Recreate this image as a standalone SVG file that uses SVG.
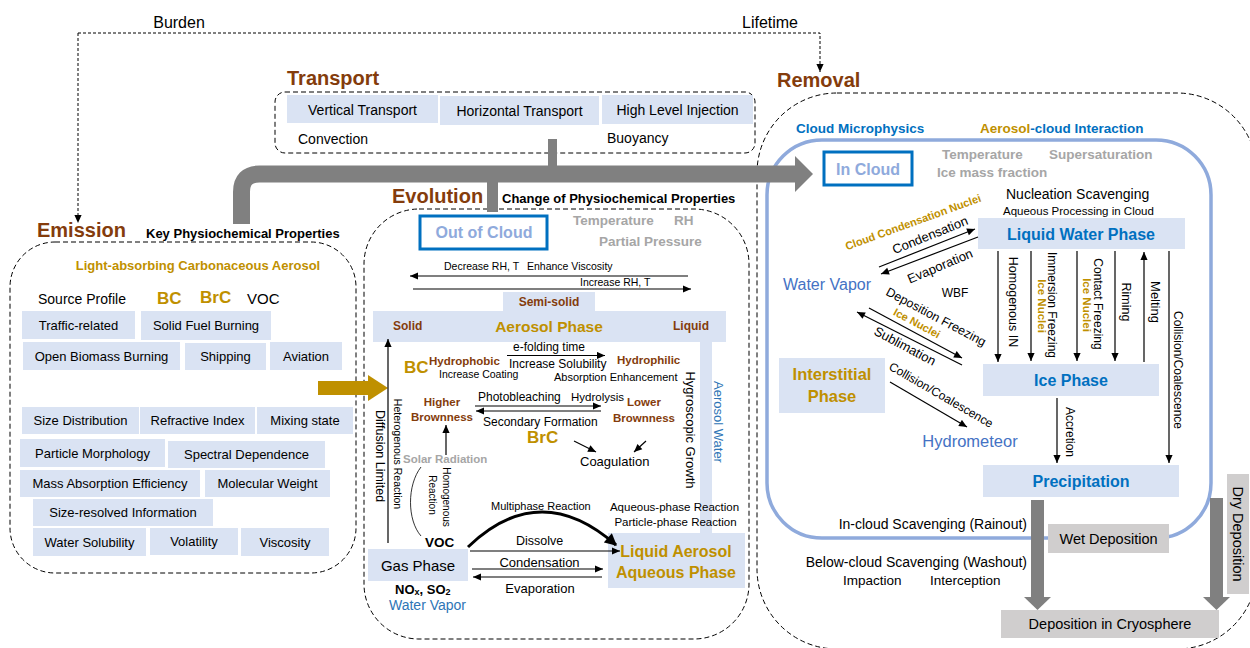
<svg xmlns="http://www.w3.org/2000/svg" width="1250" height="648" viewBox="0 0 1250 648">
<style>
text{font-family:"Liberation Sans",Arial,sans-serif;dominant-baseline:central;fill:#000}
.m{text-anchor:middle}
.e{text-anchor:end}
.b{font-weight:bold}
.br{fill:#843C0C}
.gd{fill:#BF9000}
.bl{fill:#0070C0}
.lb{fill:#4472C4}
.aw{fill:#2E75B6}
.gr{fill:#A6A6A6}
.cl{fill:#8FAADC}
.h{font-size:20px;font-weight:bold;fill:#843C0C}
.box{fill:#DAE3F3}
.gbox{fill:#D0CECE}
.dash{fill:none;stroke:#000;stroke-width:1;stroke-dasharray:5 3}
.dot{fill:none;stroke:#000;stroke-width:1;stroke-dasharray:3 2}
.ln{fill:none;stroke:#000;stroke-width:1.2}
.arr{marker-end:url(#ah)}
.cbox{fill:#fff;stroke:#0070C0;stroke-width:3}
.gy{fill:#808080}
</style>
<defs>
<marker id="ah" viewBox="0 0 10 10" refX="10" refY="5" markerWidth="9" markerHeight="8" markerUnits="userSpaceOnUse" orient="auto"><path d="M0,0.5 L10,5 L0,9.5 z" fill="#000"/></marker>
<marker id="ahb" viewBox="0 0 10 10" refX="9" refY="5" markerWidth="13" markerHeight="12" markerUnits="userSpaceOnUse" orient="auto"><path d="M0,0 L10,5 L0,10 z" fill="#000"/></marker>
</defs>

<g id="emission">
<text x="37" y="230" class="h">Emission</text>
<text x="146" y="233" class="b" font-size="13">Key Physiochemical Properties</text>
<rect x="10" y="242" width="346" height="331" rx="45" class="dash"/>
<text x="198" y="265" class="m b gd" font-size="13">Light-absorbing Carbonaceous Aerosol</text>
<text x="38" y="299" font-size="14">Source Profile</text>
<text x="157" y="298" class="b gd" font-size="17">BC</text>
<text x="200" y="297" class="b gd" font-size="17">BrC</text>
<text x="247" y="298" font-size="15">VOC</text>
<g font-size="13">
<rect x="22" y="311" width="113" height="28" class="box"/><text x="78.5" y="325" class="m">Traffic-related</text>
<rect x="141" y="311" width="130" height="29" class="box"/><text x="206" y="325.5" class="m">Solid Fuel Burning</text>
<rect x="23" y="342" width="157" height="28" class="box"/><text x="101.5" y="356" class="m">Open Biomass Burning</text>
<rect x="185" y="343" width="81" height="27" class="box"/><text x="225.5" y="356.5" class="m">Shipping</text>
<rect x="270" y="342" width="72" height="28" class="box"/><text x="306" y="356" class="m">Aviation</text>
<rect x="22" y="407" width="117" height="27" class="box"/><text x="80.5" y="420.5" class="m">Size Distribution</text>
<rect x="140" y="407" width="115" height="27" class="box"/><text x="197.5" y="420.5" class="m">Refractive Index</text>
<rect x="257" y="407" width="96" height="27" class="box"/><text x="305" y="420.5" class="m">Mixing state</text>
<rect x="20" y="439" width="145" height="28" class="box"/><text x="92.5" y="453" class="m">Particle Morphology</text>
<rect x="168" y="441" width="157" height="27" class="box"/><text x="246.5" y="454.5" class="m">Spectral Dependence</text>
<rect x="20" y="470" width="180" height="27" class="box"/><text x="110" y="483.5" class="m">Mass Absorption Efficiency</text>
<rect x="205" y="470" width="125" height="27" class="box"/><text x="267.5" y="483.5" class="m">Molecular Weight</text>
<rect x="33" y="499" width="180" height="27" class="box"/><text x="123" y="512.5" class="m">Size-resolved Information</text>
<rect x="33" y="528" width="113" height="28" class="box"/><text x="89.5" y="542" class="m">Water Solubility</text>
<rect x="150" y="528" width="88" height="27" class="box"/><text x="194" y="541.5" class="m">Volatility</text>
<rect x="241" y="528" width="88" height="28" class="box"/><text x="285" y="542" class="m">Viscosity</text>
</g>
</g>

<g id="transport">
<text x="287" y="78" class="h">Transport</text>
<rect x="275" y="92" width="480" height="61" rx="10" class="dash"/>
<g font-size="14">
<rect x="287" y="95" width="151" height="28" class="box"/><text x="362.5" y="110" class="m">Vertical Transport</text>
<rect x="440" y="96" width="159" height="29" class="box"/><text x="519.5" y="111" class="m">Horizontal Transport</text>
<rect x="602" y="95" width="151" height="29" class="box"/><text x="677.5" y="110" class="m">High Level Injection</text>
<text x="298" y="139">Convection</text>
<text x="607" y="138">Buoyancy</text>
</g>
</g>

<g id="evolution">
<text x="392" y="196" class="h">Evolution</text>
<text x="502" y="198" class="b" font-size="13">Change of Physiochemical Properties</text>
<rect x="364" y="209" width="385" height="430" rx="55" class="dash"/>
<rect x="420" y="216" width="127" height="33" class="cbox"/>
<text x="484" y="232.5" class="m b cl" font-size="16">Out of Cloud</text>
<text x="573" y="220" class="b gr" font-size="13.5">Temperature</text>
<text x="674" y="220" class="b gr" font-size="13.5">RH</text>
<text x="599" y="241" class="b gr" font-size="13.5">Partial Pressure</text>
<text x="444" y="266" font-size="10.5">Decrease RH, T</text>
<text x="527" y="266" font-size="10.5">Enhance Viscosity</text>
<text x="580" y="282" font-size="10.5">Increase RH, T</text>
<rect x="503" y="292" width="92" height="20" class="box"/>
<rect x="373" y="311" width="353" height="31" class="box"/>
<rect x="700" y="341" width="12" height="193" class="box"/>
<text x="549" y="302" class="m b br" font-size="12">Semi-solid</text>
<text x="393" y="326" class="b br" font-size="12">Solid</text>
<text x="549" y="326" class="m b gd" font-size="15.5">Aerosol Phase</text>
<text x="673" y="326" class="b br" font-size="12">Liquid</text>
<text transform="translate(718,422) rotate(90)" class="m aw" font-size="13">Aerosol Water</text>
<text transform="translate(690,430) rotate(90)" class="m" font-size="13">Hygroscopic Growth</text>
<text x="404" y="367" class="b gd" font-size="17">BC</text>
<text x="429" y="361" class="b br" font-size="11.5">Hydrophobic</text>
<text x="439" y="374" font-size="10.5">Increase Coating</text>
<text x="513" y="347" font-size="12">e-folding time</text>
<text x="509" y="364" font-size="12">Increase Solubility</text>
<text x="617" y="360" class="b br" font-size="11.5">Hydrophilic</text>
<text x="554" y="377" font-size="11">Absorption Enhancement</text>
<text x="442" y="402" class="m b br" font-size="11.5">Higher</text>
<text x="442" y="417" class="m b br" font-size="11.5">Brownness</text>
<text x="478" y="397" font-size="12">Photobleaching</text>
<text x="571" y="397" font-size="11.5">Hydrolysis</text>
<text x="483" y="422" font-size="12">Secondary Formation</text>
<text x="644" y="402" class="m b br" font-size="11.5">Lower</text>
<text x="644" y="418" class="m b br" font-size="11.5">Brownness</text>
<text x="527" y="437" class="b gd" font-size="17">BrC</text>
<text x="580" y="461" font-size="13">Coagulation</text>
<text x="403" y="459" class="b gr" font-size="11.5">Solar Radiation</text>
<text transform="translate(380,456) rotate(90)" class="m" font-size="12.5">Diffusion Limited</text>
<text transform="translate(398,454) rotate(90)" class="m" font-size="10.5">Heterogenous Reaction</text>
<text transform="translate(446,497) rotate(90)" class="m" font-size="10">Homogenous</text>
<text transform="translate(432,495) rotate(90)" class="m" font-size="10">Reaction</text>
<text x="425" y="542" class="b" font-size="13.5">VOC</text>
<rect x="368" y="549" width="100" height="32" class="box"/>
<text x="418" y="565" class="m" font-size="15">Gas Phase</text>
<text x="395" y="589" class="b" font-size="13">NO<tspan font-size="9" dy="3">x</tspan><tspan dy="-3">, SO</tspan><tspan font-size="9" dy="3">2</tspan></text>
<text x="427.5" y="605" class="m aw" font-size="14">Water Vapor</text>
<text x="491" y="506" font-size="11">Multiphase Reaction</text>
<text x="674.5" y="507" class="m" font-size="11.5">Aqueous-phase Reaction</text>
<text x="675.5" y="522" class="m" font-size="11.5">Particle-phase Reaction</text>
<text x="539.5" y="541" class="m" font-size="12.5">Dissolve</text>
<text x="539.5" y="562" class="m" font-size="13">Condensation</text>
<text x="540" y="588" class="m" font-size="13">Evaporation</text>
<rect x="608" y="533" width="137" height="55" class="box"/>
<text x="676" y="551" class="m b gd" font-size="16">Liquid Aerosol</text>
<text x="676" y="572" class="m b gd" font-size="16">Aqueous Phase</text>
</g>

<g id="removal">
<text x="777" y="80" class="h">Removal</text>
<rect x="757" y="93" width="500" height="556" rx="80" class="dash"/>
<text x="796" y="128" class="b bl" font-size="13.5">Cloud Microphysics</text>
<text x="980" y="128" class="b" font-size="13.5"><tspan class="gd">Aerosol</tspan><tspan class="bl">-cloud Interaction</tspan></text>
<rect x="767" y="140" width="444" height="398" rx="55" fill="none" stroke="#8FAADC" stroke-width="3.5"/>
<rect x="824" y="152" width="88" height="33" class="cbox"/>
<text x="868" y="169" class="m b cl" font-size="16">In Cloud</text>
<text x="942" y="154" class="b gr" font-size="13.5">Temperature</text>
<text x="1049" y="154" class="b gr" font-size="13.5">Supersaturation</text>
<text x="937" y="172" class="b gr" font-size="13.5">Ice mass fraction</text>
<text x="1006" y="194" font-size="14">Nucleation Scavenging</text>
<text x="1003" y="211" font-size="11.5">Aqueous Processing in Cloud</text>
<rect x="978" y="218" width="207" height="31" class="box"/>
<text x="1081" y="234" class="m b bl" font-size="16">Liquid Water Phase</text>
<text transform="translate(913,222) rotate(-20)" class="m b gd" font-size="11">Cloud Condensation Nuclei</text>
<text transform="translate(930,235) rotate(-22)" class="m" font-size="13">Condensation</text>
<text transform="translate(940,266) rotate(-23)" class="m" font-size="13">Evaporation</text>
<text x="827" y="284" class="m lb" font-size="16">Water Vapor</text>
<text x="955" y="293" class="m" font-size="12">WBF</text>
<text transform="translate(936,317) rotate(28)" class="m" font-size="12.5">Deposition Freezing</text>
<text transform="translate(917,323) rotate(28)" class="m b gd" font-size="11">Ice Nuclei</text>
<text transform="translate(905,346) rotate(28)" class="m" font-size="13">Sublimation</text>
<rect x="779" y="358" width="106" height="55" class="box"/>
<text x="832" y="374" class="m b gd" font-size="16.5">Interstitial</text>
<text x="832" y="396" class="m b gd" font-size="16.5">Phase</text>
<text transform="translate(941,395) rotate(30)" class="m" font-size="12">Collision/Coalescence</text>
<text x="970" y="441" class="m lb" font-size="16.5">Hydrometeor</text>
<rect x="983" y="364" width="176" height="32" class="box"/>
<text x="1071" y="380" class="m b bl" font-size="16">Ice Phase</text>
<text transform="translate(1013,302) rotate(90)" class="m" font-size="12.5">Homogenous IN</text>
<text transform="translate(1052,305) rotate(90)" class="m" font-size="12">Immersion Freezing</text>
<text transform="translate(1042,306) rotate(90)" class="m b gd" font-size="11.5">Ice Nuclei</text>
<text transform="translate(1098,304) rotate(90)" class="m" font-size="12">Contact Freezing</text>
<text transform="translate(1087,305) rotate(90)" class="m b gd" font-size="11.5">Ice Nuclei</text>
<text transform="translate(1126,302) rotate(90)" class="m" font-size="12.5">Riming</text>
<text transform="translate(1155,302) rotate(90)" class="m" font-size="13">Melting</text>
<text transform="translate(1178,370) rotate(90)" class="m" font-size="12">Collision/Coalescence</text>
<text transform="translate(1070,432) rotate(90)" class="m" font-size="12">Accretion</text>
<rect x="983" y="465" width="196" height="32" class="box"/>
<text x="1081" y="481" class="m b bl" font-size="16">Precipitation</text>
<text x="1027" y="524" class="e" font-size="14">In-cloud Scavenging (Rainout)</text>
<text x="1027" y="562" class="e" font-size="14">Below-cloud Scavenging (Washout)</text>
<text x="843" y="580" font-size="13.5">Impaction</text>
<text x="930" y="580" font-size="13.5">Interception</text>
<rect x="1048" y="524" width="121" height="29" class="gbox"/>
<text x="1108.5" y="538.5" class="m" font-size="14.5">Wet Deposition</text>
<rect x="1227" y="474" width="22" height="120" class="gbox"/>
<text transform="translate(1238,534) rotate(90)" class="m" font-size="14.5">Dry Deposition</text>
<rect x="1001" y="610" width="218" height="28" class="gbox"/>
<text x="1110" y="624" class="m" font-size="14.5">Deposition in Cryosphere</text>
</g>

<g id="connectors">
<text x="179" y="22" class="m" font-size="16">Burden</text>
<text x="770" y="22" class="m" font-size="16">Lifetime</text>
<path d="M78 33 V223" class="dot arr"/>
<path d="M78 33 H820 V72" class="dot arr"/>
<path d="M241.5 224 V192 Q241.5 174 259.5 174 H796" fill="none" stroke="#808080" stroke-width="17"/>
<polygon points="795,156 813,174 795,192" class="gy"/>
<rect x="548" y="139" width="9" height="27" class="gy"/>
<rect x="487" y="181" width="11" height="31" class="gy"/>
<rect x="318" y="381" width="52" height="14" fill="#BF9000"/>
<polygon points="368,375 388,388 368,401" fill="#BF9000"/>
<path d="M688 276 H410" class="ln arr"/>
<path d="M413 289 H691" class="ln arr"/>
<path d="M507 355.5 H605" class="ln arr"/>
<path d="M475 406 H601" class="ln arr"/>
<path d="M601 411 H476" class="ln arr"/>
<path d="M574 441 L596 452" class="ln arr"/>
<path d="M646 441 L634 452" class="ln arr"/>
<path d="M446 455 V425" class="ln arr"/>
<path d="M388 543 V339" class="ln arr"/>
<path d="M421 467 C407 485 407 520 421 536" fill="none" stroke="#000" stroke-width="0.8"/>
<path d="M468 547 Q540 478 616 545" fill="none" stroke="#000" stroke-width="3" marker-end="url(#ahb)"/>
<path d="M470 551 H620" class="ln arr"/>
<path d="M472 569 H603" class="ln arr"/>
<path d="M602 577 H473" class="ln arr"/>
<path d="M879 267 L975 229" class="ln arr"/>
<path d="M978 237 L881 274" class="ln arr"/>
<path d="M869 308 L962 358" class="ln arr"/>
<path d="M962 365 L857 312" class="ln arr"/>
<path d="M890 382 L967 427" class="ln arr"/>
<path d="M998 251 V362" class="ln arr"/>
<path d="M1031 251 V361" class="ln arr"/>
<path d="M1077 251 V361" class="ln arr"/>
<path d="M1115 251 V361" class="ln arr"/>
<path d="M1144 362 V252" class="ln arr"/>
<path d="M1169 251 V463" class="ln arr"/>
<path d="M1057 398 V463" class="ln arr"/>
<rect x="1031" y="500" width="13" height="98" class="gy"/>
<polygon points="1024,597 1051,597 1037.5,610" class="gy"/>
<rect x="1210" y="498" width="13" height="100" class="gy"/>
<polygon points="1203,597 1230,597 1216.5,610" class="gy"/>
</g>
</svg>
